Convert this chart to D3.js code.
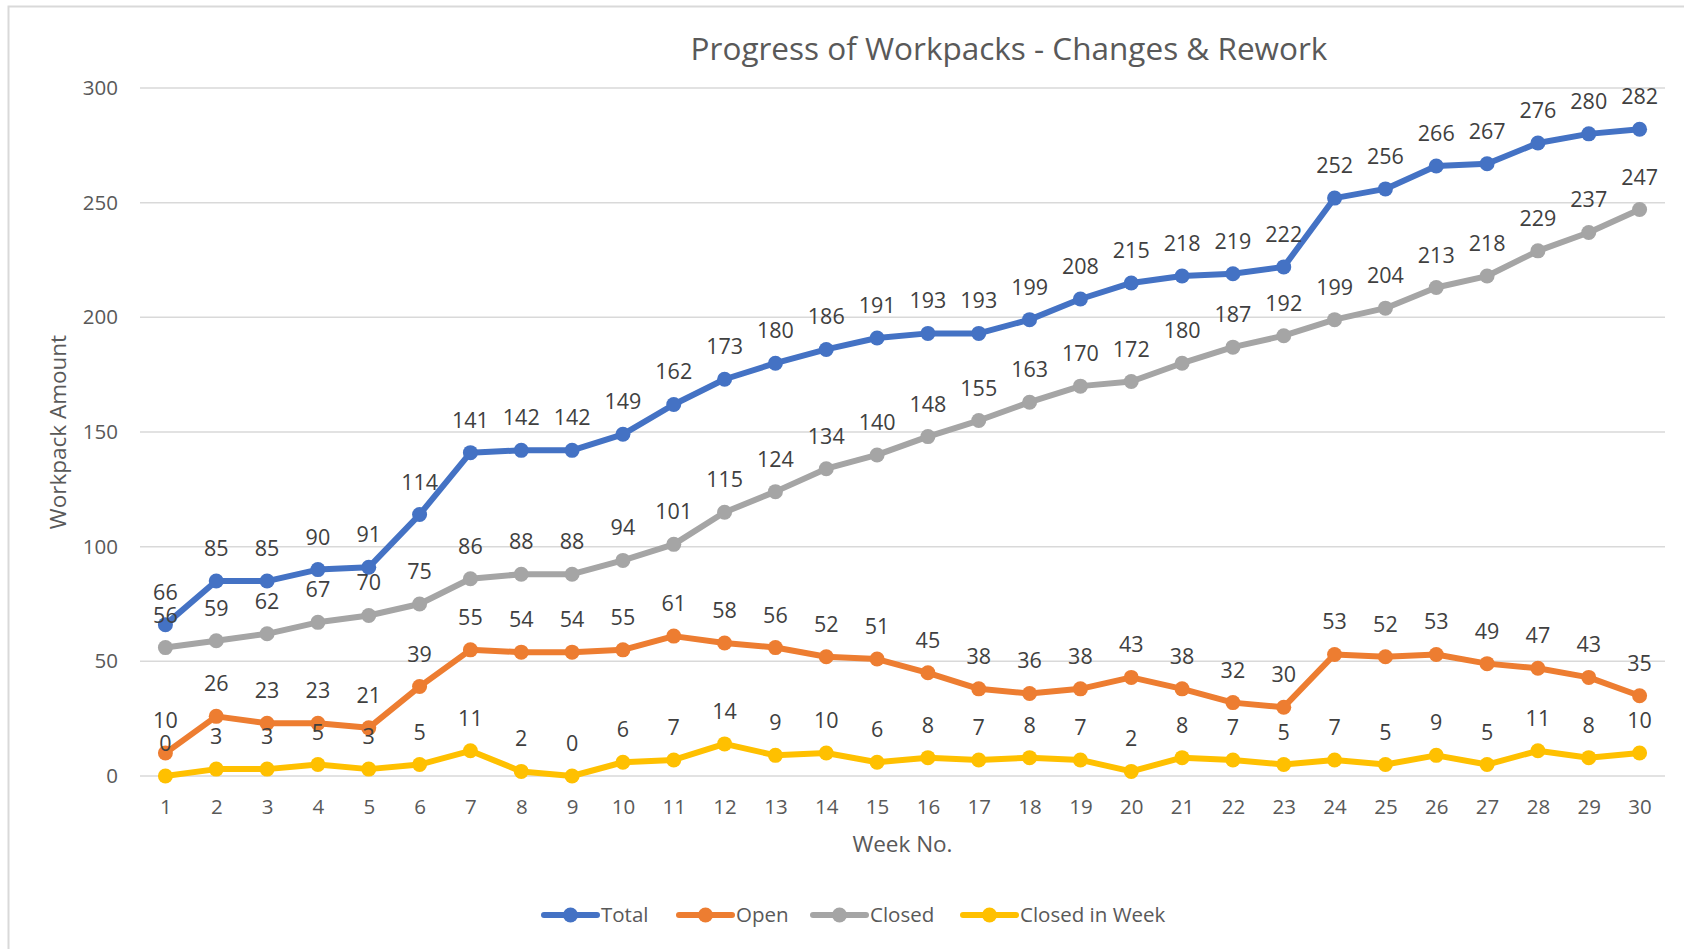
<!DOCTYPE html>
<html>
<head>
<meta charset="utf-8">
<script src="https://cdn.jsdelivr.net/npm/d3@7"></script>
<style>
  body { margin: 0; background: #fff; }
  text { font-family: "Open Sans", "Noto Sans", sans-serif; }
</style>
</head>
<body>
<script>
var width = 1684;
var height = 949;
var margin = {top: 88, right: 19, bottom: 173, left: 140};

var weeks = d3.range(1, 31);
var totalCount = [66, 85, 85, 90, 91, 114, 141, 142, 142, 149, 162, 173, 180, 186, 191, 193, 193, 199, 208, 215, 218, 219, 222, 252, 256, 266, 267, 276, 280, 282];
var openCount = [10, 26, 23, 23, 21, 39, 55, 54, 54, 55, 61, 58, 56, 52, 51, 45, 38, 36, 38, 43, 38, 32, 30, 53, 52, 53, 49, 47, 43, 35];
var closedCount = [56, 59, 62, 67, 70, 75, 86, 88, 88, 94, 101, 115, 124, 134, 140, 148, 155, 163, 170, 172, 180, 187, 192, 199, 204, 213, 218, 229, 237, 247];
var closedInWeek = [0, 3, 3, 5, 3, 5, 11, 2, 0, 6, 7, 14, 9, 10, 6, 8, 7, 8, 7, 2, 8, 7, 5, 7, 5, 9, 5, 11, 8, 10];
var seriesNames = ['Total', 'Open', 'Closed', 'Closed in Week'];
var seriesColors = ['#4472C4', '#ED7D31', '#A5A5A5', '#FFC000'];
var yTicks = [0, 50, 100, 150, 200, 250, 300];

var series = [totalCount, openCount, closedCount, closedInWeek].map(function (v, i) {
  return {name: seriesNames[i], color: seriesColors[i], values: v};
});

var x = d3.scalePoint().domain(weeks).range([margin.left, width - margin.right]).padding(0.5);
var y = d3.scaleLinear().domain([0, 300]).range([height - margin.bottom, margin.top]);

var svg = d3.select('body').append('svg')
  .attr('width', width)
  .attr('height', height);

// outer chart border (only left/top visible in the crop)
svg.append('path')
  .attr('d', 'M8.5 ' + height + ' V6.5 H' + width)
  .style('fill', 'none')
  .style('stroke', '#D9D9D9')
  .style('stroke-width', 2);

// gridlines
svg.append('g')
  .selectAll('line')
  .data(yTicks)
  .enter()
  .append('line')
  .attr('x1', margin.left)
  .attr('x2', width - margin.right)
  .attr('y1', function (d) { return y(d) })
  .attr('y2', function (d) { return y(d) })
  .style('stroke', '#D9D9D9')
  .style('stroke-width', 1.5);

// y axis labels
var yAxis = svg.append('g')
  .attr('transform', 'translate(' + margin.left + ',0)')
  .call(d3.axisLeft(y).tickValues(yTicks).tickSize(0).tickPadding(22));
yAxis.select('.domain').remove();
yAxis.selectAll('text')
  .style('font-size', '20.5px')
  .style('fill', '#595959');

// x axis labels
var xAxis = svg.append('g')
  .attr('transform', 'translate(0,' + y(0) + ')')
  .call(d3.axisBottom(x).tickSize(0).tickPadding(23));
xAxis.select('.domain').remove();
xAxis.selectAll('text')
  .style('font-size', '20.5px')
  .style('fill', '#595959');

// titles
svg.append('text')
  .attr('x', 1009)
  .attr('y', 60)
  .attr('text-anchor', 'middle')
  .style('font-size', '31.5px')
  .style('fill', '#595959')
  .text('Progress of Workpacks - Changes & Rework');

svg.append('text')
  .attr('x', (margin.left + width - margin.right) / 2)
  .attr('y', 852)
  .attr('text-anchor', 'middle')
  .style('font-size', '22.5px')
  .style('fill', '#595959')
  .text('Week No.');

svg.append('text')
  .attr('transform', 'translate(66,' + (y(150)) + ') rotate(-90)')
  .attr('text-anchor', 'middle')
  .style('font-size', '22.5px')
  .style('fill', '#595959')
  .text('Workpack Amount');

// lines, markers, labels
var line = d3.line()
  .x(function (d, i) { return x(weeks[i]) })
  .y(function (d) { return y(d) });

var groups = svg.selectAll('g.series')
  .data(series)
  .enter()
  .append('g')
  .attr('class', 'series');

groups.append('path')
  .attr('d', function (d) { return line(d.values) })
  .style('fill', 'none')
  .style('stroke', function (d) { return d.color })
  .style('stroke-width', 6)
  .style('stroke-linejoin', 'round');

groups.each(function (s) {
  d3.select(this).selectAll('circle')
    .data(s.values)
    .enter()
    .append('circle')
    .attr('cx', function (d, i) { return x(weeks[i]) })
    .attr('cy', function (d) { return y(d) })
    .attr('r', 7.5)
    .style('fill', s.color);
});

groups.each(function (s) {
  d3.select(this).selectAll('text.label')
    .data(s.values)
    .enter()
    .append('text')
    .attr('class', 'label')
    .attr('x', function (d, i) { return x(weeks[i]) })
    .attr('y', function (d) { return y(d) - 25 })
    .attr('text-anchor', 'middle')
    .style('font-size', '21.5px')
    .style('fill', '#404040')
    .text(function (d) { return d });
});

// legend
var legendX = [544, 679, 813, 963];
var legend = svg.selectAll('g.legend')
  .data(series)
  .enter()
  .append('g')
  .attr('class', 'legend')
  .attr('transform', function (d, i) { return 'translate(' + legendX[i] + ',915)' });

legend.append('line')
  .attr('x1', 0)
  .attr('x2', 53)
  .style('stroke', function (d) { return d.color })
  .style('stroke-width', 6)
  .style('stroke-linecap', 'round');

legend.append('circle')
  .attr('cx', 26.5)
  .attr('r', 7.5)
  .style('fill', function (d) { return d.color });

legend.append('text')
  .attr('x', 57)
  .attr('dy', '0.35em')
  .style('font-size', '20.5px')
  .style('fill', '#595959')
  .text(function (d) { return d.name });
</script>
</body>
</html>
